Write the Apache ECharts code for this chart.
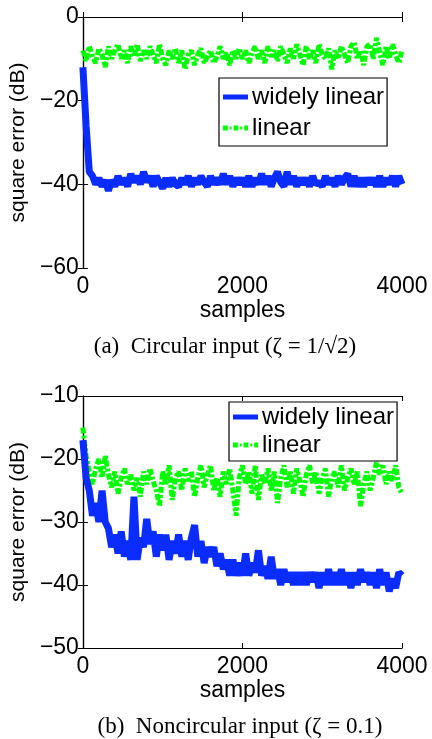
<!DOCTYPE html>
<html>
<head>
<meta charset="utf-8">
<script src="https://cdn.jsdelivr.net/npm/echarts@6/dist/echarts.min.js"></script>
<style>
  html, body { margin: 0; padding: 0; background: #fff; }
  #main { width: 432px; height: 739px; }
</style>
</head>
<body>
<div id="main"></div>
<script>
// sample positions: one value every 40 samples, 0..4000
var step = 40;

// (a) circular input
var circWidely = [
  -12, -26, -37, -38, -40, -38.5, -40.5, -39, -41.5, -39,
  -40.5, -38, -40, -38.5, -40.5, -37.5, -39.5, -38, -40, -37,
  -39.5, -38, -40.5, -38, -39.5, -41, -38.5, -40.5, -38.5, -40,
  -40.5, -38.5, -40, -38, -40.5, -38.5, -40, -38, -39.5, -40.5,
  -38, -40, -38.5, -40, -37.5, -40, -38, -40.5, -38.5, -40,
  -38.5, -40.5, -38, -40.5, -38.5, -40, -37.5, -40, -38, -40.5,
  -38.5, -37, -39.5, -40.5, -37, -40, -38, -40.5, -38.5, -40,
  -38.5, -40.5, -38, -40, -39.5, -40.5, -38, -40, -38.5, -40.5,
  -38, -40, -38.5, -37.5, -40.5, -38, -40.5, -38.5, -40.5, -38.5,
  -40, -38.5, -40.5, -38, -40.5, -38.5, -40, -38, -40.5, -38,
  -40
];
var circLinear = [
  -8, -10.5, -7, -9.5, -11, -7.5, -9, -12, -7, -10,
  -8, -6.5, -10, -8, -11, -7, -9.5, -6.5, -10.5, -8,
  -10, -7, -9, -11, -6.5, -10, -11.5, -8, -10, -7.5,
  -11, -8, -12.5, -9, -8, -11.5, -9, -7.5, -11, -9.5,
  -8, -11, -9.5, -7, -10, -8.5, -11.5, -8, -10, -7.5,
  -10, -8, -11, -8.5, -7, -10, -8, -11, -7, -9.5,
  -8, -10.5, -7, -9, -11, -7.5, -10, -6.5, -9, -11.5,
  -7, -10, -8, -11, -6.5, -9, -10, -7.5, -12.5, -8,
  -10, -7, -9, -11, -7, -6, -10, -8, -11.5, -7,
  -6.5, -10, -5, -8.5, -11.5, -7, -10, -6.5, -9, -11,
  -8
];

// (b) noncircular input
var noncWidely = [
  -17, -23, -25, -29, -27, -30, -25, -30, -31, -34,
  -32, -35, -31.5, -35.5, -33, -36, -26, -36, -32.5, -34,
  -29.5, -33.5, -31.5, -35.5, -32, -34.5, -32, -36, -33, -35,
  -32, -35.5, -33, -36, -32.5, -30.5, -35.5, -33, -36.5, -34,
  -35.5, -34, -37, -35, -37.5, -36, -38.5, -36, -38.5, -36.5,
  -38.5, -35, -38.5, -36.5, -38, -34.5, -38.5, -37, -39, -35.5,
  -39, -37.5, -40, -37.5, -39.5, -38, -40, -38, -40, -38,
  -40, -38, -39.5, -38, -40.5, -38, -40, -37.5, -40, -38,
  -40, -37.5, -40, -38, -40.5, -38, -40, -37.5, -39.5, -38,
  -40, -38, -40.5, -37.5, -40, -38, -41, -39, -40.5, -38,
  -38.5
];
var noncLinear = [
  -15, -19.5, -22, -24, -21.5, -20, -23, -19.5, -22.5, -24.5,
  -22, -25.5, -23, -21.5, -24, -22.5, -25, -23, -26, -22,
  -24, -21.5, -23.5, -25, -27.5, -22, -24, -21, -26.5, -23,
  -22, -25, -21.5, -23.5, -22, -26, -23, -21, -24.5, -22.5,
  -21, -25, -23, -26, -22, -24, -21.5, -25, -29, -23,
  -21, -24, -22, -25.5, -21, -26.5, -22.5, -24, -21.5, -25,
  -22, -27, -23, -21, -24.5, -22, -25.5, -21.5, -23.5, -26,
  -22.5, -21, -24, -22, -25.5, -23, -21.5, -26, -23, -22,
  -24.5, -21, -25, -23, -21.5, -24, -22, -27.5, -24, -22,
  -25, -23, -20.5, -22.5, -21, -24, -22, -23.5, -21, -24.5,
  -25.5
];

var blue = '#0b2cff';
var green = '#00ff00';
var axisFont = 'Liberation Sans, Arial, Helvetica, sans-serif';
var serifFont = 'Liberation Serif, Times New Roman, serif';

function pairs(arr) {
  return arr.map(function (v, i) { return [i * step, v]; });
}
function minus(v) { return String(v).replace('-', '\u2212'); }

function xAx(gi, top) {
  var ax = {
    gridIndex: gi, type: 'value', min: 0, max: 4000, interval: 2000,
    position: top ? 'top' : 'bottom',
    axisLine: { lineStyle: { color: '#000', width: 1.2 } },
    axisTick: { inside: true, length: 5, lineStyle: { color: '#000' } },
    axisLabel: { show: !top, fontSize: 23, color: '#000', fontFamily: axisFont, margin: 7, formatter: function (v) { return String(v); } },
    splitLine: { show: false }
  };
  if (!top) {
    ax.name = 'samples';
    ax.nameLocation = 'middle';
    ax.nameGap = 31;
    ax.nameTextStyle = { fontSize: 23, color: '#000', fontFamily: axisFont };
  }
  return ax;
}
function yAx(gi, mn, mx, iv, right) {
  var ax = {
    gridIndex: gi, type: 'value', min: mn, max: mx, interval: iv,
    position: right ? 'right' : 'left',
    axisLine: { lineStyle: { color: '#000', width: 1.2 } },
    axisTick: { inside: true, length: 5, lineStyle: { color: '#000' } },
    axisLabel: { show: !right, fontSize: 23, color: '#000', fontFamily: axisFont, margin: 4, formatter: minus },
    splitLine: { show: false }
  };
  if (!right) {
    ax.name = 'square error (dB)';
    ax.nameLocation = 'middle';
    ax.nameGap = 47;
    ax.nameTextStyle = { fontSize: 21, color: '#000', fontFamily: axisFont };
  }
  return ax;
}
function legendAt(left, top, pad, gap) {
  return {
    data: [
      { name: 'widely linear', icon: 'rect' },
      { name: 'linear', icon: 'path://M0,0h5v5h-5z M7,1h2v3h-2z M11,0h5v5h-5z M18,1h2v3h-2z M22,0h4v5h-4z' }
    ],
    orient: 'vertical', left: left, top: top,
    backgroundColor: '#fff', borderColor: '#000', borderWidth: 1.2,
    padding: pad, itemGap: gap, itemWidth: 25, itemHeight: 5,
    textStyle: { fontSize: 24, color: '#000', fontFamily: axisFont, padding: [0, 0, 0, -1] },
    selectedMode: false
  };
}
function wlSeries(idx, data) {
  return {
    name: 'widely linear', type: 'line', xAxisIndex: idx, yAxisIndex: idx,
    symbol: 'none', data: pairs(data), z: 3,
    lineStyle: { color: blue, width: 7 }, itemStyle: { color: blue }
  };
}
function linSeries(idx, data) {
  return {
    name: 'linear', type: 'line', xAxisIndex: idx, yAxisIndex: idx,
    symbol: 'none', data: pairs(data), z: 2,
    lineStyle: { color: green, width: 5, type: [6, 2, 3, 2] }, itemStyle: { color: green }
  };
}

var chart = echarts.init(document.getElementById('main'));
chart.setOption({
  animation: false,
  backgroundColor: '#fff',
  grid: [
    { left: 81, top: 17, width: 321, height: 251 },
    { left: 81, top: 396, width: 321, height: 252 }
  ],
  xAxis: [xAx(0, false), xAx(1, false), xAx(0, true), xAx(1, true)],
  yAxis: [yAx(0, -60, 0, 20, false), yAx(1, -50, -10, 10, false), yAx(0, -60, 0, 20, true), yAx(1, -50, -10, 10, true)],
  legend: [legendAt(219, 78, [7, 3, 6, 4], 7), legendAt(229, 402, [3, 3, 4, 4], 4)],
  graphic: [
    { type: 'text', x: 225, y: 347, style: { text: '(a)  Circular input (\u03b6 = 1/\u221a2)', fontSize: 23, fontFamily: serifFont, fill: '#000', textAlign: 'center', textVerticalAlign: 'middle' } },
    { type: 'text', x: 240, y: 727, style: { text: '(b)  Noncircular input (\u03b6 = 0.1)', fontSize: 23, fontFamily: serifFont, fill: '#000', textAlign: 'center', textVerticalAlign: 'middle' } }
  ],
  series: [
    linSeries(0, circLinear), wlSeries(0, circWidely),
    linSeries(1, noncLinear), wlSeries(1, noncWidely)
  ]
});
</script>
</body>
</html>
